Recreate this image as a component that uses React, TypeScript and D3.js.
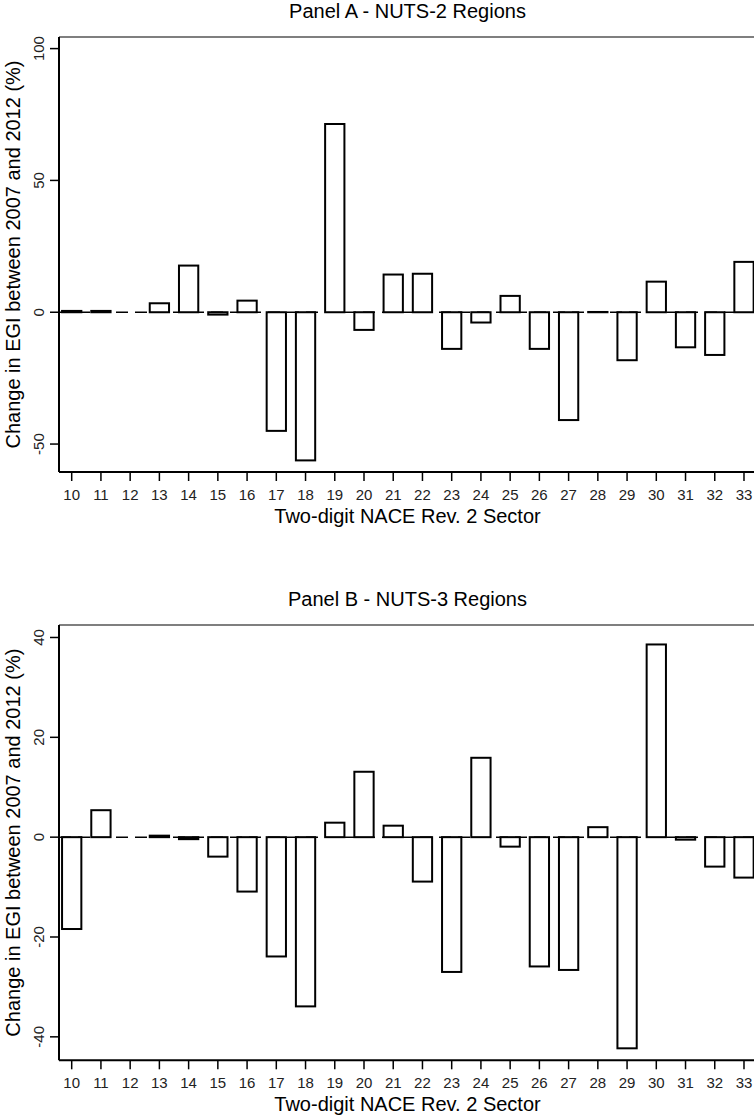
import React, { useEffect, useRef } from "react";
import * as d3 from "d3";

const sectors = ["10", "11", "12", "13", "14", "15", "16", "17", "18", "19", "20", "21",
  "22", "23", "24", "25", "26", "27", "28", "29", "30", "31", "32", "33"];

// Panel A - NUTS-2 regions, change in EGI 2007-2012 (%)
const nuts2Change = [0.5, 0.5, 0, 3.4, 17.7, -0.9, 4.4, -45.0, -56.2, 71.4, -6.7, 14.3,
  14.6, -13.9, -3.9, 6.2, -13.9, -40.9, 0.1, -18.2, 11.6, -13.3, -16.2, 19.1];

// Panel B - NUTS-3 regions
const nuts3Change = [-18.4, 5.4, 0, 0.3, -0.4, -3.9, -10.9, -23.9, -33.9, 2.9, 13.1, 2.3,
  -8.9, -27.0, 15.9, -1.9, -25.9, -26.6, 2.0, -42.3, 38.6, -0.5, -5.9, -8.1];

const nuts2Ticks = [-50, 0, 50, 100];
const nuts3Ticks = [-40, -20, 0, 20, 40];

const titles = ["Panel A - NUTS-2 Regions", "Panel B - NUTS-3 Regions"];
const xTitle = "Two-digit NACE Rev. 2 Sector";
const yTitle = "Change in EGI between 2007 and 2012 (%)";

const FONT = "'Liberation Sans', Arial, sans-serif";

interface PanelSpec {
  title: string;
  values: number[];
  ticks: number[];
  domain: [number, number];
  top: number;
  bottom: number;
}

const App: React.FC = () => {
  const ref = useRef<SVGSVGElement | null>(null);

  useEffect(() => {
    const width = 754;
    const height = 1118;
    const left = 59;
    const right = 756;
    const step = 29.23;
    const first = 71.7;

    const svg = d3.select(ref.current);
    svg.selectAll("*").remove();
    svg.attr("width", width).attr("height", height);

    const x = d3
      .scaleBand<string>()
      .domain(sectors)
      .range([first - step / 2, first - step / 2 + step * sectors.length])
      .paddingInner(0.34)
      .paddingOuter(0.17);

    const panels: PanelSpec[] = [
      { title: titles[0], values: nuts2Change, ticks: nuts2Ticks, domain: [-60.6, 104.4], top: 37, bottom: 472 },
      { title: titles[1], values: nuts3Change, ticks: nuts3Ticks, domain: [-44.7, 42.5], top: 625, bottom: 1060.3 },
    ];

    panels.forEach(p => {
      const y = d3.scaleLinear().domain(p.domain).range([p.bottom, p.top]);
      const g = svg.append("g");
      const y0 = y(0);

      // title
      g.append("text")
        .attr("x", (left + right) / 2)
        .attr("y", p.top - 18.7)
        .attr("text-anchor", "middle")
        .attr("font-family", FONT)
        .attr("font-size", 20)
        .attr("fill", "#000")
        .text(p.title);

      // zero reference line
      g.append("line")
        .attr("x1", left)
        .attr("x2", right)
        .attr("y1", y0)
        .attr("y2", y0)
        .attr("stroke", "#000")
        .attr("stroke-width", 1.5)
        .attr("stroke-dasharray", "12,7");

      // bars
      g.selectAll("rect.bar")
        .data(p.values)
        .enter()
        .append("rect")
        .attr("class", "bar")
        .attr("x", (_, i) => x(sectors[i]) as number)
        .attr("width", x.bandwidth())
        .attr("y", d => Math.min(y(d), y0))
        .attr("height", d => Math.abs(y(d) - y0))
        .attr("fill", "#fff")
        .attr("stroke", "#000")
        .attr("stroke-width", 2);

      // frame
      g.append("line")
        .attr("x1", left).attr("x2", right)
        .attr("y1", p.top).attr("y2", p.top)
        .attr("stroke", "#555").attr("stroke-width", 1.5);
      g.append("line")
        .attr("x1", left).attr("x2", left)
        .attr("y1", p.top).attr("y2", p.bottom)
        .attr("stroke", "#000").attr("stroke-width", 2);
      g.append("line")
        .attr("x1", left).attr("x2", right)
        .attr("y1", p.bottom).attr("y2", p.bottom)
        .attr("stroke", "#000").attr("stroke-width", 2);

      // y ticks
      const yt = g.selectAll("g.ytick").data(p.ticks).enter().append("g").attr("class", "ytick");
      yt.append("line")
        .attr("x1", left - 9).attr("x2", left)
        .attr("y1", d => y(d)).attr("y2", d => y(d))
        .attr("stroke", "#000").attr("stroke-width", 1.5);
      yt.append("text")
        .attr("transform", d => `translate(43.5,${y(d)}) rotate(-90)`)
        .attr("text-anchor", "middle")
        .attr("font-family", FONT)
        .attr("font-size", 15)
        .attr("fill", "#222")
        .text(d => String(d));

      // x ticks
      const xt = g.selectAll("g.xtick").data(sectors).enter().append("g").attr("class", "xtick");
      xt.append("line")
        .attr("x1", d => (x(d) as number) + x.bandwidth() / 2)
        .attr("x2", d => (x(d) as number) + x.bandwidth() / 2)
        .attr("y1", p.bottom).attr("y2", p.bottom + 9)
        .attr("stroke", "#000").attr("stroke-width", 1.5);
      xt.append("text")
        .attr("x", d => (x(d) as number) + x.bandwidth() / 2)
        .attr("y", p.bottom + 28)
        .attr("text-anchor", "middle")
        .attr("font-family", FONT)
        .attr("font-size", 15)
        .attr("fill", "#222")
        .text(d => d);

      // axis titles
      g.append("text")
        .attr("x", (left + right) / 2)
        .attr("y", p.bottom + 51)
        .attr("text-anchor", "middle")
        .attr("font-family", FONT)
        .attr("font-size", 20)
        .attr("fill", "#000")
        .text(xTitle);
      g.append("text")
        .attr("transform", `translate(19.5,${(p.top + p.bottom) / 2}) rotate(-90)`)
        .attr("text-anchor", "middle")
        .attr("font-family", FONT)
        .attr("font-size", 20)
        .attr("fill", "#000")
        .text(yTitle);
    });
  }, []);

  return <svg ref={ref} style={{ position: "absolute", left: 0, top: 0, background: "#fff" }}></svg>;
};

export default App;
